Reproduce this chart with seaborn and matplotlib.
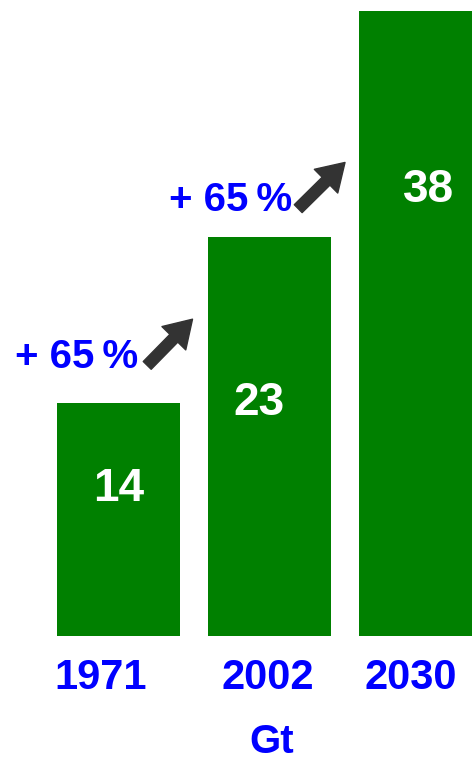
import matplotlib
matplotlib.use("Agg")
import matplotlib.pyplot as plt
import seaborn as sns
import pandas as pd

years = ["1971", "2002", "2030"]
heights = [14.1, 24.2, 37.9]          # bar heights (Gt)
value_labels = ["14", "23", "38"]
growth_labels = ["+ 65\u2009%", "+ 65\u2009%"]
unit = "Gt"

GREEN = "#008000"
BLUE = "#0000FF"
ARROW = "#333333"

sns.set_theme(style="white")
plt.rcParams["font.family"] = ["Liberation Sans", "DejaVu Sans"]

W, H = 472, 760
fig = plt.figure(figsize=(W / 100, H / 100), dpi=100)
bottom_px = 636
ax = fig.add_axes([0, 1 - bottom_px / H, 1, bottom_px / H])

df = pd.DataFrame({"year": years, "value": heights})
sns.barplot(data=df, x="year", y="value", color=GREEN, saturation=1,
            width=0.815, ax=ax, edgecolor="none")

ax.set_xlim(-0.785, 2.341)
ax.set_ylim(0, bottom_px / 16.5)
for s in ax.spines.values():
    s.set_visible(False)
ax.set_yticks([])
ax.set_ylabel("")
ax.set_xlabel("")

# year tick labels (slightly offset from bar centres as in the reference)
tick_dx = [-0.116, -0.01, -0.063]
ax.set_xticks([i + d for i, d in enumerate(tick_dx)])
ax.set_xticklabels(years, fontsize=30, fontweight="bold", color=BLUE)
ax.tick_params(axis="x", length=0, pad=16)

# value labels inside bars
inner_dx = [0.0, -0.07, 0.05]
inner_dy = [-5.2, -10.05, -10.85]
for i, (v, lab) in enumerate(zip(heights, value_labels)):
    ax.text(i + inner_dx[i], v + inner_dy[i], lab, color="white", fontsize=33,
            fontweight="bold", ha="center", va="center")

# growth annotations with arrows
txt_pos = [(-0.275, 16.9), (0.745, 26.4)]
arr_pos = [((0.19, 16.4), (0.49, 19.2)), ((1.19, 25.9), (1.5, 28.7))]
for lab, (tx, ty), (a0, a1) in zip(growth_labels, txt_pos, arr_pos):
    ax.text(tx, ty, lab, color=BLUE, fontsize=29, fontweight="bold",
            ha="center", va="center")
    ax.annotate("", xy=a1, xytext=a0,
                arrowprops=dict(arrowstyle="simple,head_width=1.5,head_length=1.2,tail_width=0.5",
                                color=ARROW, mutation_scale=16, shrinkA=0, shrinkB=0))

fig.text(272 / W, 1 - 753 / H, unit, color=BLUE, fontsize=29, fontweight="bold",
         ha="center", va="baseline")

fig.savefig("out.png", dpi=100, facecolor="white")
